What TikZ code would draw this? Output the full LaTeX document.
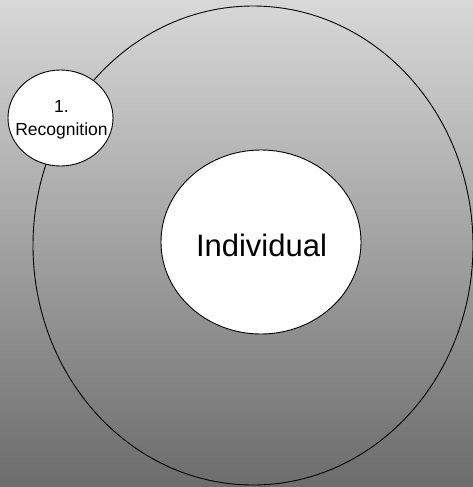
\documentclass[tikz,border=0pt]{standalone}
\usepackage{fontspec}
\setmainfont{Liberation Sans}
\usetikzlibrary{shapes.geometric}
\definecolor{bgtop}{RGB}{216,216,216}
\definecolor{bgbot}{RGB}{108,108,108}
\tikzset{
  ring/.style={draw=black, line width=0.9pt, ellipse, inner sep=0pt, outer sep=0pt},
  bubble/.style={ring, fill=white},
  caption/.style={align=center, inner sep=0pt},
}
\begin{document}
\begin{tikzpicture}[x=1pt,y=-1pt]
\useasboundingbox (0,0) rectangle (473,487);
\shade[top color=bgtop, bottom color=bgbot] (0,0) rectangle (473,487);
\node[ring, minimum width=440pt, minimum height=479pt] (outer) at (253,245.5) {};
\node[bubble, minimum width=200pt, minimum height=184pt] (individual) at (261,242) {};
\node[caption, font=\fontsize{31}{36}\selectfont] (individualtext) at (261.5,245) {Individual};
\node[bubble, minimum width=105pt, minimum height=96pt] (recognition) at (60.5,118) {};
\node[caption, font=\fontsize{17.5}{22.5}\selectfont] (recognitiontext) at (61.5,120) {1.\\Recognition};
\end{tikzpicture}
\end{document}
